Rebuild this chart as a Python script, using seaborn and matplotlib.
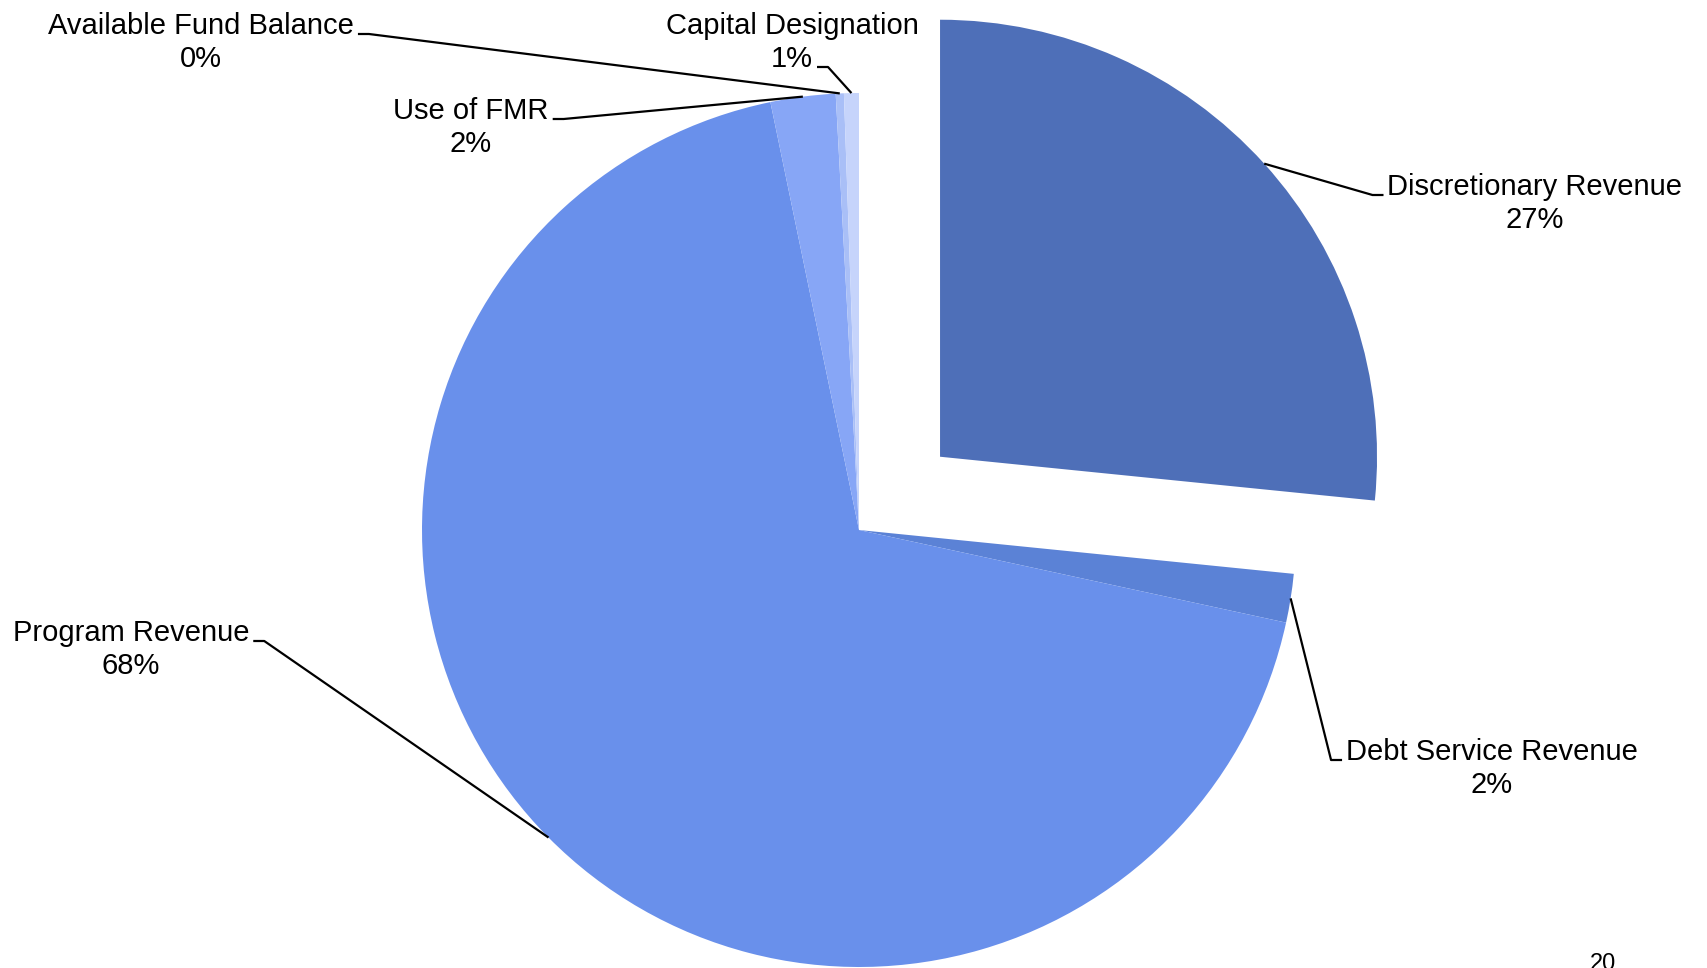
import matplotlib
matplotlib.use("Agg")
import matplotlib.pyplot as plt
import seaborn as sns
import numpy as np

# data (percent of total revenue)
categories = ["Discretionary Revenue", "Debt Service Revenue", "Program Revenue",
              "Use of FMR", "Available Fund Balance", "Capital Designation"]
shares = [26.6, 1.8, 68.35, 2.4, 0.3, 0.55]
colors = ["#4E6FB8", "#5B82D6", "#6990EB", "#87A6F6", "#A9BFF7", "#C6D4FB"]
explode = [0.25, 0, 0, 0, 0, 0]

# label layout in pixels (x, y of first line from top), leader side and line it joins
label_pos = [(1535, 187), (1492, 752), (131, 633), (471, 111), (201, 26), (792, 26)]
label_side = ["left", "left", "right", "right", "right", "right"]
label_join = ["name", "name", "name", "name", "name", "pct"]
page_number = "20"

W, H = 1708, 968
sns.set_theme(style="white")
plt.rcParams["font.family"] = ["Liberation Sans", "DejaVu Sans"]

fig = plt.figure(figsize=(W / 100, H / 100), dpi=100)
ax = fig.add_axes([0, 0, 1, 1])

cx, cy, r = 859, H - 530, 437
wedges, _ = ax.pie(shares, colors=colors, explode=[e * r for e in explode],
                   startangle=90, counterclock=False, center=(cx, cy), radius=r,
                   wedgeprops=dict(linewidth=0))
ax.set_xlim(0, W)
ax.set_ylim(0, H)
ax.set_aspect("equal")
ax.axis("off")

line_gap = 33
fs = 21
labels = []
for name, val, (lx, ly) in zip(categories, shares, label_pos):
    t1 = ax.text(lx, H - ly, name, ha="center", va="center", fontsize=fs, color="black")
    t2 = ax.text(lx, H - ly - line_gap, f"{val:.0f}%", ha="center", va="center",
                 fontsize=fs, color="black")
    labels.append((t1, t2))

fig.canvas.draw()
renderer = fig.canvas.get_renderer()
inv = ax.transData.inverted()

# leader lines: from the middle of each wedge's arc to a short stub by the label
for w, (t1, t2), side, join in zip(wedges, labels, label_side, label_join):
    mid = np.deg2rad((w.theta1 + w.theta2) / 2)
    wx, wy = w.center
    ax_pt = (wx + w.r * np.cos(mid), wy + w.r * np.sin(mid))
    t = t1 if join == "name" else t2
    bb = t.get_window_extent(renderer).transformed(inv)
    sy = t.get_position()[1] - 8
    if side == "left":
        ex = bb.x0 - 4
        elbow = ex - 11
    else:
        ex = bb.x1 + 4
        elbow = ex + 11
    ax.plot([ax_pt[0], elbow, ex], [ax_pt[1], sy, sy], color="black", lw=1.6,
            solid_capstyle="butt")

ax.text(1603, H - 953, page_number, ha="center", va="top", fontsize=17, color="black")

fig.savefig("out.png", dpi=100)
